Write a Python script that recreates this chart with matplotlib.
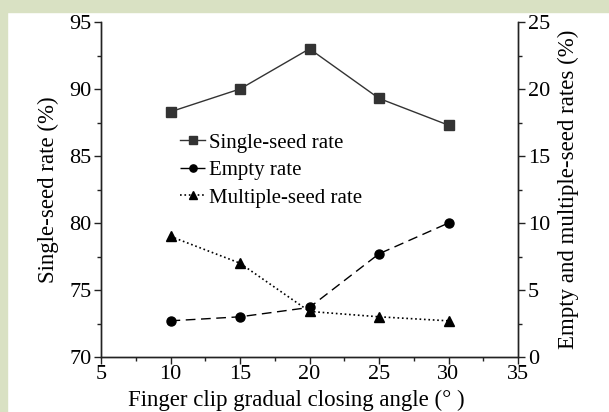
import matplotlib
matplotlib.use("Agg")
import matplotlib.pyplot as plt
from matplotlib.ticker import MultipleLocator

angles = [10, 15, 20, 25, 30]
single_seed = [88.3, 90.0, 93.0, 89.3, 87.3]
empty_rate = [2.7, 3.0, 3.7, 7.7, 10.0]
multiple_rate = [9.0, 7.0, 3.4, 3.0, 2.7]

plt.rcParams['font.family'] = ['Liberation Serif', 'DejaVu Serif']
fs_tick = 16
fs_lab = 16.5
fs_leg = 15

fig = plt.figure(figsize=(6.09, 4.12), dpi=100)
fig.patch.set_facecolor('white')
# green frame on top and left
fig.patches.append(plt.Rectangle((0, 1 - 12/412), 1, 12/412, transform=fig.transFigure,
                                 color='#d9e1c3', zorder=0))
fig.patches.append(plt.Rectangle((0, 0), 7/609, 1, transform=fig.transFigure,
                                 color='#d9e1c3', zorder=0))

ax = fig.add_axes([101/609, 1 - 357/412, (518 - 101)/609, (357 - 22)/412])
ax2 = ax.twinx()

c_line = '#333333'
l1, = ax.plot(angles, single_seed, '-', color=c_line, lw=1.0, marker='s', ms=6.5,
              mfc='#333333', mec='#333333')
l2, = ax2.plot(angles, empty_rate, '--', color='black', lw=1.0, marker='o', ms=6.5,
               dashes=(7, 4))
l3, = ax2.plot(angles, multiple_rate, ':', color='black', lw=1.2, marker='^', ms=6.5)

ax.set_xlim(5, 35)
ax.set_ylim(70, 95)
ax2.set_ylim(0, 25)

ax.xaxis.set_major_locator(MultipleLocator(5))
ax.xaxis.set_minor_locator(MultipleLocator(2.5))
ax.yaxis.set_major_locator(MultipleLocator(5))
ax.yaxis.set_minor_locator(MultipleLocator(2.5))
ax2.yaxis.set_major_locator(MultipleLocator(5))
ax2.yaxis.set_minor_locator(MultipleLocator(2.5))

for a in (ax, ax2):
    a.spines['top'].set_visible(False)
    for s in a.spines.values():
        s.set_linewidth(1.0)
        s.set_color('#222222')
    a.tick_params(which='major', direction='out', length=5, width=1, labelsize=fs_tick, color='#222222')
    a.tick_params(which='minor', direction='out', length=3, width=1, color='#222222')
ax.tick_params(axis='x', pad=1)
ax.tick_params(axis='y', pad=2)
ax2.tick_params(axis='y', pad=2)

ax.set_xlabel('Finger clip gradual closing angle (° )', fontsize=fs_lab, labelpad=4)
ax.xaxis.label.set_x(0.469)
ax.set_ylabel('Single-seed rate (%)', fontsize=fs_lab, labelpad=7)
ax2.set_ylabel('Empty and multiple-seed rates (%)', fontsize=fs_lab, labelpad=6)

leg = ax.legend([l1, l2, l3], ['Single-seed rate', 'Empty rate', 'Multiple-seed rate'],
                loc='upper left', bbox_to_anchor=(180/609, 1 - 133/412),
                bbox_transform=fig.transFigure, frameon=False, fontsize=fs_leg,
                handlelength=1.2, handletextpad=0.2, labelspacing=0.38,
                borderaxespad=0, borderpad=0, markerscale=0.8)

fig.savefig('out.png', dpi=100)
